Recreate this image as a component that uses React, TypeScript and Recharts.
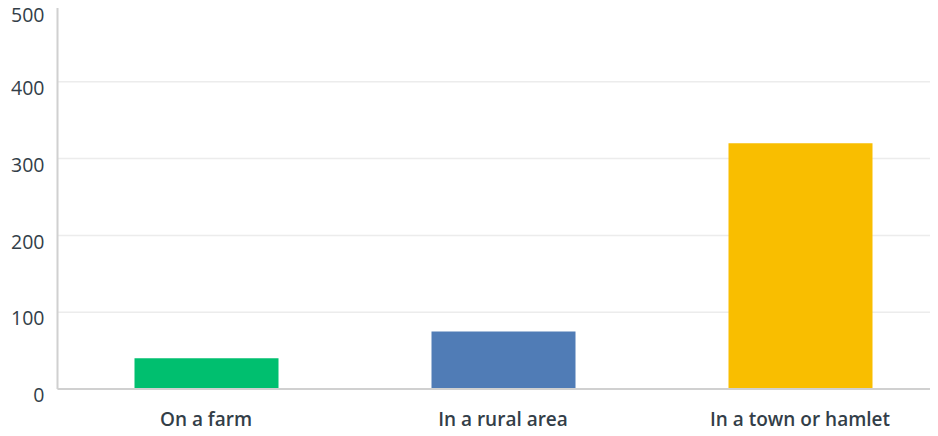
import { Bar, BarChart, CartesianGrid, Cell, XAxis, YAxis } from 'recharts';

const categories = ['On a farm', 'In a rural area', 'In a town or hamlet'];
const counts = [40, 75, 320];
const barColors = ['#00bf6f', '#507cb6', '#f9be00'];
const yTicks = [0, 100, 200, 300, 400, 500];

const data = categories.map((name, i) => ({ name, count: counts[i] }));

const textColor = '#333e48';
const font = '"Open Sans", sans-serif';

function YTick({ x, y, payload }: any) {
  return (
    <text x={x} y={y} dy={8} textAnchor="end" dominantBaseline="middle"
      fill={textColor} fontFamily={font} fontSize={19.5} fontWeight={500}>
      {payload.value}
    </text>
  );
}

function XTick({ x, y, payload }: any) {
  return (
    <text x={x} y={y + 24} textAnchor="middle" dominantBaseline="middle"
      fill={textColor} fontFamily={font} fontSize={19} fontWeight={600}>
      {payload.value}
    </text>
  );
}

function GridLine(props: any) {
  if (props.y1 < 10) return <g />;
  return <line x1={props.x1} x2={props.x2} y1={props.y1} y2={props.y2} stroke="#ececec" strokeWidth={1.5} />;
}

export default function App() {
  return (
    <div style={{ margin: '-8px 0 0 -8px', width: 938, height: 436, overflow: 'hidden' }}>
      <BarChart width={950} height={436} data={data}
        margin={{ top: 5, right: 1.5, bottom: 0, left: 0 }}>
        <CartesianGrid vertical={false} horizontal={GridLine} />
        <XAxis dataKey="name" height={47} tickLine={false} tick={XTick}
          axisLine={{ stroke: '#d0d0d0', strokeWidth: 2 }} />
        <YAxis width={57.5} domain={[0, 500]} ticks={yTicks} tickLine={false}
          tickSize={6} tickMargin={7} tick={YTick}
          axisLine={{ stroke: '#d0d0d0', strokeWidth: 2 }} />
        <Bar dataKey="count" barSize={144} isAnimationActive={false}>
          {data.map((d, i) => (
            <Cell key={d.name} fill={barColors[i]} />
          ))}
        </Bar>
      </BarChart>
    </div>
  );
}
